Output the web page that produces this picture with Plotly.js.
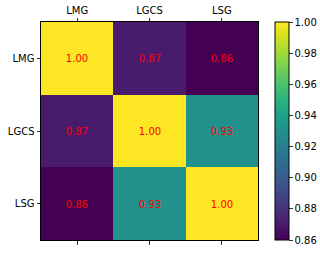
<!DOCTYPE html>
<html>
<head>
<script src="https://cdn.plot.ly/plotly-3.0.1.min.js"></script>
<style>html,body{margin:0;padding:0;background:#fff;}#chart{width:320px;height:253px;}</style>
</head>
<body>
<div id="chart"></div>
<script>
var labels = ["LMG", "LGCS", "LSG"];
var row_LMG = [1.00, 0.87, 0.86];
var row_LGCS = [0.87, 1.00, 0.93];
var row_LSG = [0.86, 0.93, 1.00];
var colorbarTicks = [0.86, 0.88, 0.90, 0.92, 0.94, 0.96, 0.98, 1.00];

var font = {family: "DejaVu Sans", size: 10, color: "#000"};
var trace = {
  type: "heatmap",
  x: labels,
  y: labels,
  z: [row_LMG, row_LGCS, row_LSG],
  colorscale: "Viridis",
  zmin: 0.86,
  zmax: 1.00,
  texttemplate: "%{z:.2f}",
  textfont: {family: "DejaVu Sans", size: 10, color: "#ff0000"},
  hoverinfo: "skip",
  xgap: 0, ygap: 0,
  colorbar: {
    thickness: 14,
    len: 218,
    lenmode: "pixels",
    x: 275/320,
    xanchor: "left",
    xref: "container",
    xpad: 0,
    ypad: 0,
    y: 0.5,
    yref: "paper",
    yanchor: "middle",
    outlinewidth: 1,
    outlinecolor: "#000",
    tickmode: "array",
    tickvals: colorbarTicks,
    ticktext: colorbarTicks.map(function(v){return v.toFixed(2);}),
    ticks: "outside",
    ticklen: 3.5,
    tickwidth: 0.8,
    tickcolor: "#000",
    tickfont: font
  }
};
var layout = {
  width: 320,
  height: 253,
  margin: {l: 41, r: 62, t: 22, b: 13},
  paper_bgcolor: "#fff",
  plot_bgcolor: "#fff",
  font: font,
  xaxis: {
    side: "top",
    tickvals: labels,
    ticks: "outside",
    ticklen: 3.5,
    tickwidth: 0.8,
    tickcolor: "#000",
    tickfont: font,
    showline: true,
    linecolor: "#000",
    linewidth: 1,
    mirror: true,
    showgrid: false,
    zeroline: false
  },
  xaxis2: {
    overlaying: "x",
    matches: "x",
    side: "bottom",
    anchor: "y",
    ticks: "outside",
    ticklen: 3.5,
    tickwidth: 0.8,
    tickcolor: "#000",
    showticklabels: false,
    showgrid: false,
    zeroline: false
  },
  yaxis: {
    autorange: "reversed",
    ticks: "outside",
    ticklen: 3.5,
    tickwidth: 0.8,
    tickcolor: "#000",
    tickfont: font,
    showline: true,
    linecolor: "#000",
    linewidth: 1,
    mirror: true,
    showgrid: false,
    zeroline: false
  }
};
var dummy = {type: "scatter", x: labels, y: labels, xaxis: "x2", yaxis: "y", mode: "markers", marker: {opacity: 0}, hoverinfo: "skip", showlegend: false};
Plotly.newPlot("chart", [trace, dummy], layout, {displayModeBar: false, staticPlot: true});
</script>
</body>
</html>
